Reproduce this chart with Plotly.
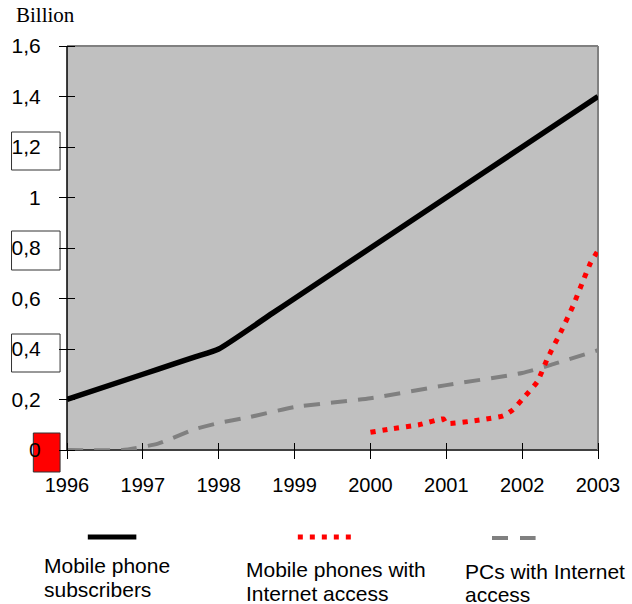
import plotly.graph_objects as go

# ---- data ----
mobile_x = [1996, 1997, 1997.4, 1997.7, 1998, 1998.7, 1999, 2000, 2001, 2002, 2003]
mobile_y = [0.20, 0.30, 0.34, 0.37, 0.40, 0.54, 0.60, 0.80, 1.00, 1.20, 1.40]

mobnet_x = [2000, 2000.3, 2000.64, 2000.96, 2001, 2001.47, 2001.75, 2001.88, 2002, 2002.2, 2002.33, 2002.53, 2002.67, 2002.79, 2002.9, 2003]
mobnet_y = [0.07, 0.085, 0.10, 0.123, 0.105, 0.12, 0.135, 0.16, 0.20, 0.27, 0.36, 0.48, 0.57, 0.66, 0.74, 0.79]

pc_x = [1996, 1996.73, 1997.2, 1997.68, 1998, 1998.4, 1999, 2000, 2001, 2002, 2002.38, 2003]
pc_y = [0.0, 0.0, 0.025, 0.082, 0.107, 0.13, 0.17, 0.205, 0.257, 0.305, 0.337, 0.395]

year_ticks = [1996, 1997, 1998, 1999, 2000, 2001, 2002, 2003]
y_tickvals = [0, 0.2, 0.4, 0.6, 0.8, 1.0, 1.2, 1.4, 1.6]
y_ticktext = ["0", "0,2", "0,4", "0,6", "0,8", "1", "1,2", "1,4", "1,6"]

series_names = ["Mobile phone subscribers", "Mobile phones with Internet access", "PCs with Internet access"]

# ---- layout geometry (pixels) ----
W, H = 632, 604
L, R, T, B = 64, 600, 46, 450
TICK_HALF = 8


def px(x):
    return (x - L) / (R - L)


def py(y):
    return (B - y) / (B - T)


FONT = "Liberation Sans, Arial, sans-serif"

fig = go.Figure()
fig.add_trace(go.Scatter(x=pc_x, y=pc_y, mode="lines", name=series_names[2],
                         line=dict(color="#808080", width=4, dash="16px,11px", shape="spline", smoothing=0.5)))
fig.add_trace(go.Scatter(x=mobile_x, y=mobile_y, mode="lines", name=series_names[0],
                         line=dict(color="#000000", width=5.5, shape="spline", smoothing=0.5)))
fig.add_trace(go.Scatter(x=mobnet_x, y=mobnet_y, mode="lines", name=series_names[1],
                         line=dict(color="#ff0000", width=5, dash="5px,7px", shape="spline", smoothing=0.4)))

# axes are shifted inward by half a tick so that "outside" ticks of double length cross the plot edge
fig.update_layout(
    width=W, height=H,
    margin=dict(l=L, r=W - R, t=T, b=H - B, pad=0),
    paper_bgcolor="white",
    plot_bgcolor="rgba(0,0,0,0)",
    showlegend=False,
    font=dict(family=FONT, size=20, color="black"),
    xaxis=dict(range=[1996, 2003], tickvals=year_ticks, ticktext=[str(y) for y in year_ticks],
               anchor="free", position=TICK_HALF / (B - T),
               showgrid=False, zeroline=False, showline=False,
               ticks="outside", ticklen=2 * TICK_HALF, tickcolor="black", tickwidth=1,
               tickfont=dict(size=20, family=FONT), ticklabelstandoff=9),
    yaxis=dict(range=[0, 1.6], tickvals=y_tickvals, ticktext=y_ticktext,
               anchor="free", position=TICK_HALF / (R - L),
               showgrid=False, zeroline=False, showline=False,
               ticks="outside", ticklen=2 * TICK_HALF, tickcolor="black", tickwidth=1,
               tickfont=dict(size=21, family=FONT), ticklabelstandoff=14),
)

shapes = []
# plot area background
shapes.append(dict(type="rect", xref="paper", yref="paper", layer="below",
                   x0=0, x1=1, y0=0, y1=1, fillcolor="#c0c0c0", line=dict(width=0)))
# axis lines (left black, bottom dark grey) and grey frame (top, right)
shapes.append(dict(type="line", xref="paper", yref="paper", layer="below", x0=0, x1=1, y0=0, y1=0,
                   line=dict(color="#404040", width=2)))
shapes.append(dict(type="line", xref="paper", yref="paper", layer="below", x0=0, x1=0, y0=0, y1=1,
                   line=dict(color="black", width=1.5)))
shapes.append(dict(type="line", xref="paper", yref="paper", layer="below", x0=0, x1=1, y0=1, y1=1,
                   line=dict(color="#808080", width=2)))
shapes.append(dict(type="line", xref="paper", yref="paper", layer="below", x0=1, x1=1, y0=0, y1=1,
                   line=dict(color="#808080", width=2)))
# boxes around some tick labels
for (y0, y1) in [(132, 170), (231, 270), (334, 372)]:
    shapes.append(dict(type="rect", xref="paper", yref="paper", layer="below",
                       x0=px(8), x1=px(57), y0=py(y1), y1=py(y0),
                       fillcolor="white", line=dict(color="#333333", width=1)))
shapes.append(dict(type="rect", xref="paper", yref="paper", layer="below",
                   x0=px(30), x1=px(57), y0=py(472), y1=py(433),
                   fillcolor="#ff0000", line=dict(color="#333333", width=1)))
# legend samples
shapes.append(dict(type="line", xref="paper", yref="paper", x0=px(85), x1=px(134), y0=py(537), y1=py(537),
                   line=dict(color="black", width=5)))
shapes.append(dict(type="line", xref="paper", yref="paper", x0=px(297), x1=px(352), y0=py(537), y1=py(537),
                   line=dict(color="#ff0000", width=5, dash="5px,7px")))
shapes.append(dict(type="line", xref="paper", yref="paper", x0=px(493), x1=px(537), y0=py(538), y1=py(538),
                   line=dict(color="#808080", width=4, dash="16px,12px")))
fig.update_layout(shapes=shapes)

annotations = [
    dict(text="Billion", x=px(10), y=py(15), xanchor="left", yanchor="middle",
         font=dict(family="Liberation Serif, Times New Roman, serif", size=21)),
    dict(text="Mobile phone", x=px(39), y=py(565), xanchor="left", yanchor="middle"),
    dict(text="subscribers", x=px(39), y=py(589), xanchor="left", yanchor="middle"),
    dict(text="Mobile phones with", x=px(243), y=py(569), xanchor="left", yanchor="middle"),
    dict(text="Internet access", x=px(243), y=py(593), xanchor="left", yanchor="middle"),
    dict(text="PCs with Internet", x=px(464), y=py(571), xanchor="left", yanchor="middle"),
    dict(text="access", x=px(464), y=py(594), xanchor="left", yanchor="middle"),
]
for a in annotations:
    a.update(xref="paper", yref="paper", showarrow=False)
    a.setdefault("font", dict(family=FONT, size=21))
fig.update_layout(annotations=annotations)

fig.write_html("out.html")
